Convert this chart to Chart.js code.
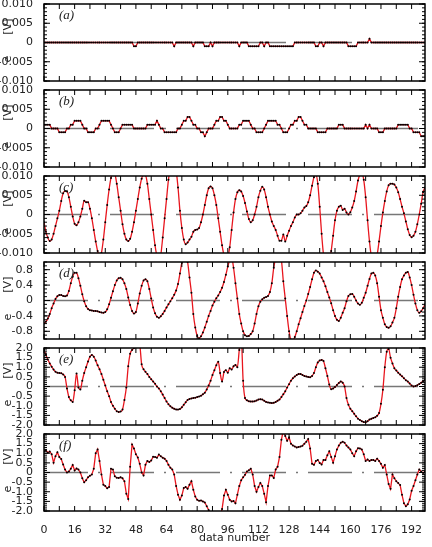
<!DOCTYPE html>
<html>
<head>
<meta charset="utf-8">
<script src="https://cdn.jsdelivr.net/npm/chart.js@4.4.1/dist/chart.umd.min.js"></script>
<style>
body { margin: 0; background: #fff; width: 432px; height: 547px; overflow: hidden; position: relative; }
canvas { position: absolute; left: 0; }
</style>
</head>
<body>
<canvas id="pa" width="432" height="101" style="top:-8px"></canvas>
<canvas id="pb" width="432" height="101" style="top:78px"></canvas>
<canvas id="pc" width="432" height="101" style="top:164px"></canvas>
<canvas id="pd" width="432" height="101" style="top:250px"></canvas>
<canvas id="pe" width="432" height="101" style="top:336px"></canvas>
<canvas id="pf" width="432" height="125" style="top:422px"></canvas>
<script>
// data number 0..199
var dataNumber = [];
for (var i = 0; i < 200; i++) dataNumber.push(i);

var xTicks = [0, 16, 32, 48, 64, 80, 96, 112, 128, 144, 160, 176, 192];

var smallTicks = [-0.010, -0.005, 0, 0.005, 0.010];
var smallLabels = ['-0.010', '-0.005', '0', '0.005', '0.010'];
var dTicks = [-0.8, -0.4, 0, 0.4, 0.8];
var dLabels = ['-0.8', '-0.4', '0', '0.4', '0.8'];
var bigTicks = [-2.0, -1.5, -1.0, -0.5, 0, 0.5, 1.0, 1.5, 2.0];
var bigLabels = ['-2.0', '-1.5', '-1.0', '-0.5', '0', '0.5', '1.0', '1.5', '2.0'];

// (a)
var eA = [
0,0,0,0,0,0,0,0,0,0,
0,0,0,0,0,0,0,0,0,0,
0,0,0,0,0,0,0,0,0,0,
0,0,0,0,0,0,0,0,0,0,
0,0,0,0,0,0,0,-.001,-.001,0,
0,0,0,0,0,0,0,0,0,0,
0,0,0,0,0,0,0,0,-.001,0,
0,0,0,0,0,0,0,0,-.001,0,
0,0,0,0,-.001,-.001,-.001,0,-.001,0,
0,0,0,0,0,0,0,0,0,0,
0,0,-.001,0,0,0,0,-.001,-.001,-.001,
-.001,-.001,-.001,0,0,-.001,0,0,-.001,-.001,
-.001,-.001,-.001,-.001,-.001,-.001,-.001,-.001,-.001,-.001,
-.001,0,0,0,0,0,0,0,0,0,
0,0,-.001,-.001,0,0,-.001,0,0,0,
0,0,0,0,0,0,0,0,0,-.001,
-.001,-.001,-.001,-.001,0,0,0,0,0,0,
.001,0,0,0,0,0,0,0,0,0,
0,0,0,0,0,0,0,0,0,0,
0,0,0,0,0,0,0,0,0,0
];

// (b)
var eB = [
.001,.001,.001,.001,0,0,0,0,-.001,-.001,
-.001,-.001,0,0,.001,.001,.002,.002,.002,.002,
.001,0,0,-.001,-.001,-.001,-.001,0,0,.001,
.002,.002,.002,.002,.002,.001,0,-.001,-.001,-.001,
0,.001,.001,.001,.001,.001,.001,0,0,0,
0,0,0,0,.001,.001,.001,.001,.001,.002,
.001,0,0,-.001,-.001,-.001,-.001,-.001,-.001,-.001,
0,0,.001,.002,.002,.003,.003,.002,.001,.001,
0,0,-.001,-.001,-.002,-.001,0,0,0,.001,
.002,.002,.003,.003,.002,.002,.001,0,0,0,
0,0,.001,.001,.002,.002,.002,.002,.001,0,
0,-.001,-.001,-.001,-.001,0,.001,.002,.002,.002,
.002,.002,.001,.001,0,-.001,-.001,-.001,0,.001,
.001,.002,.002,.003,.003,.002,.001,.001,0,0,
0,0,0,-.001,-.001,-.001,-.001,-.001,0,0,
0,0,0,0,.001,.001,.001,0,0,0,
0,0,0,0,0,0,0,0,.001,0,
.001,0,0,0,0,-.001,-.001,-.001,0,0,
0,0,0,0,0,.001,.001,.001,.001,.001,
.001,0,0,-.001,-.001,-.001,-.001,-.002,-.002,-.002
];

// (c)
var eC = [
-.002,-.0045,-.006,-.0069,-.0065,-.005,-.003,-.001,.001,.0035,
.0055,.0061,.006,.0045,.002,-.0005,-.0024,-.0028,-.002,-.0005,
.0015,.0036,.0032,.0032,.0015,-.001,-.004,-.007,-.0095,-.011,
-.01,-.0065,-.002,.0025,.0065,.0095,.0108,.0105,.008,.0045,
.001,-.0025,-.005,-.0065,-.0069,-.0063,-.0045,-.002,.001,.004,
.007,.0093,.0103,.0102,.008,.004,0,-.004,-.008,-.0108,
-.0118,-.0105,-.006,-.001,.004,.009,.012,.0132,.013,.0115,
.007,.001,-.0035,-.0065,-.0077,-.0073,-.0065,-.0058,-.0045,-.004,
-.0039,-.0035,-.002,0,.0025,.005,.0068,.0073,.0068,.005,
.0025,-.001,-.0045,-.008,-.0105,-.0115,-.011,-.0085,-.004,.0005,
.004,.0058,.0063,.006,.0048,.003,.0008,-.0012,-.002,-.0015,
0,.002,.0045,.0062,.0072,.0065,.0045,.002,0,-.0018,
-.003,-.004,-.0055,-.0068,-.0068,-.0052,-.007,-.0055,-.0042,-.003,
-.002,-.0008,0,0,.0003,.001,.0018,.0022,.0032,.005,
.0075,.0097,.0104,.008,.002,-.005,-.0105,-.013,-.0135,-.0125,
-.0095,-.0055,-.0015,.001,.002,.0023,.0012,.0015,.0005,0,
.0006,.0018,.0035,.006,.0088,.0103,.0107,.009,.0045,-.0015,
-.007,-.011,-.0125,-.0125,-.0105,-.007,-.003,.0005,.0035,.006,
.0076,.008,.008,.0078,.007,.0058,.004,.002,.0003,-.0018,
-.0038,-.0053,-.0059,-.0055,-.0045,-.0025,0,.0028,.0058,.007
];

// (d)
var eD = [
-0.6,-0.55,-0.47,-0.35,-0.2,-0.08,0.04,0.11,0.14,0.14,
0.12,0.11,0.13,0.25,0.45,0.62,0.72,0.72,0.58,0.38,
0.16,-0.02,-0.15,-0.22,-0.25,-0.26,-0.27,-0.27,-0.28,-0.3,
-0.31,-0.32,-0.3,-0.23,-0.1,0.07,0.24,0.4,0.52,0.58,
0.59,0.55,0.45,0.3,0.08,-0.12,-0.27,-0.34,-0.3,-0.08,
0.18,0.38,0.52,0.55,0.5,0.3,0.05,-0.18,-0.33,-0.42,
-0.45,-0.41,-0.35,-0.27,-0.18,-0.1,-0.02,0.06,0.15,0.26,
0.43,0.7,0.98,1.12,1.15,1.0,0.6,0.2,-0.35,-0.7,
-0.92,-0.98,-0.93,-0.83,-0.7,-0.55,-0.4,-0.27,-0.13,-0.03,
0.06,0.13,0.22,0.33,0.48,0.67,0.88,1.05,1.12,0.85,
0.45,0.05,-0.35,-0.6,-0.8,-0.9,-0.93,-0.92,-0.87,-0.8,
-0.6,-0.35,-0.15,-0.03,0.03,0.07,0.09,0.12,0.22,0.45,
0.85,1.1,1.2,1.2,1.05,0.5,0.05,-0.4,-0.8,-1.02,
-1.05,-0.95,-0.8,-0.62,-0.46,-0.3,-0.14,0,0.17,0.35,
0.55,0.72,0.78,0.75,0.7,0.6,0.5,0.37,0.22,0.08,
-0.07,-0.25,-0.4,-0.5,-0.53,-0.45,-0.32,-0.2,-0.02,0.12,
0.16,0.17,0.1,0,-0.08,-0.11,-0.06,0.07,0.2,0.38,
0.56,0.7,0.72,0.65,0.45,0.1,-0.25,-0.45,-0.62,-0.69,
-0.71,-0.67,-0.57,-0.45,-0.2,0.1,0.35,0.55,0.65,0.72,
0.74,0.6,0.4,0.15,-0.08,-0.25,-0.32,-0.28,-0.2,-0.1
];

// (e)
var eE = [
1.9,1.65,1.4,1.2,1.03,0.88,0.77,0.72,0.7,0.69,
0.62,0.5,-0.1,-0.55,-0.72,-0.8,-0.2,0.68,-0.05,-0.15,
0.3,0.7,1.0,1.3,1.55,1.64,1.55,1.35,1.1,0.9,
0.65,0.35,0.05,-0.25,-0.5,-0.8,-1.0,-1.15,-1.28,-1.33,
-1.3,-1.2,-0.7,-0.05,1.05,1.7,1.9,2.0,2.2,2.4,
2.2,1.15,0.9,0.76,0.65,0.5,0.38,0.26,0.14,0.0,
-0.1,-0.25,-0.42,-0.6,-0.78,-0.92,-1.03,-1.1,-1.16,-1.19,
-1.2,-1.17,-1.08,-0.95,-0.82,-0.7,-0.65,-0.62,-0.6,-0.58,
-0.55,-0.52,-0.48,-0.4,-0.32,-0.15,0.05,0.3,0.6,0.85,
1.1,1.29,0.7,0.26,0.75,0.85,0.72,0.95,0.88,1.05,
1.12,1.0,1.9,2.6,0.3,-0.6,-0.72,-0.77,-0.78,-0.78,
-0.77,-0.73,-0.68,-0.66,-0.68,-0.74,-0.8,-0.83,-0.85,-0.86,
-0.85,-0.8,-0.74,-0.68,-0.55,-0.4,-0.25,-0.05,0.12,0.3,
0.43,0.52,0.6,0.65,0.65,0.6,0.55,0.52,0.5,0.48,
0.55,0.7,1.0,1.25,1.35,1.38,1.32,0.95,0.55,0.1,
-0.14,-0.1,-0.03,0.08,0.18,0.26,0.2,0.0,-0.6,-0.95,
-1.15,-1.28,-1.42,-1.55,-1.67,-1.74,-1.8,-1.85,-1.86,-1.8,
-1.72,-1.68,-1.63,-1.6,-1.52,-1.38,-0.9,-0.17,1.0,1.8,
1.95,1.5,1.2,0.95,0.83,0.72,0.62,0.53,0.43,0.33,
0.26,0.15,0.05,0.0,0.02,0.07,0.13,0.2,0.27,0.34
];

// (f)
var eF = [
1.12,1.16,1.03,1.09,0.95,0.51,0.85,1.05,0.8,0.7,
0.42,0.15,0.0,0.05,0.2,0.39,0.1,0.21,0.15,0.0,
-0.3,-0.51,-0.4,-0.25,-0.17,-0.1,0.2,1.0,1.2,0.6,
-0.1,-0.63,-0.7,-0.82,-0.75,0.2,0.15,-0.2,-0.27,-0.28,
-0.25,-0.3,-0.45,-1.1,-1.38,0.3,1.45,1.25,0.95,0.78,
0.45,0.0,-0.15,0.4,0.6,0.55,0.62,0.82,0.8,0.77,
0.93,0.85,0.77,0.72,0.6,0.4,0.25,0.15,-0.1,-0.7,
-1.15,-1.42,-1.2,-0.8,-0.75,-0.85,-0.63,-0.45,-0.9,-1.25,
-1.42,-1.47,-1.45,-1.5,-1.56,-1.75,-1.95,-2.1,-2.2,-2.15,
-2.05,-2.15,-2.3,-1.9,-1.2,-0.9,-1.15,-1.42,-1.5,-1.48,
-1.6,-1.15,-0.7,-0.4,-0.25,-0.12,0.05,0.12,0.2,-0.1,
-0.7,-1.0,-0.75,-0.54,-0.7,-1.1,-1.54,-0.7,-0.15,-0.15,
-0.28,0.15,0.3,0.8,1.7,2.2,1.9,1.65,1.82,1.5,
1.4,1.35,1.3,1.33,1.35,1.39,1.5,1.6,1.74,1.25,
0.45,0.4,0.6,0.65,0.5,0.42,0.65,0.65,0.9,1.1,
0.81,0.51,0.85,1.2,1.4,1.55,1.6,1.55,1.4,1.3,
1.2,1.0,0.85,1.1,1.26,1.25,1.2,0.95,0.6,0.68,
0.6,0.65,0.65,0.6,0.72,0.6,0.45,0.25,0.39,-0.1,
-0.6,-0.85,-0.1,-0.3,-0.45,-0.55,-0.65,-1.16,-1.6,-1.75,
-1.65,-1.4,-0.95,-0.7,-0.4,-0.1,0.16,0.05,-0.02,0.07
];

var zeroLine = [{x: 0, y: 0}, {x: 199, y: 0}];

var textFont = 'DejaVu Sans';

// frame, inward ticks, panel letter and axis title
var framePlugin = {
  id: 'frame',
  afterDraw: function(chart, args, opts) {
    var ctx = chart.ctx, a = chart.chartArea;
    var xs = chart.scales.x, ys = chart.scales.y;
    ctx.save();
    ctx.strokeStyle = '#000';
    ctx.lineWidth = 1;
    ctx.beginPath();
    for (var v = 0; v <= 199; v += 8) {
      var px = xs.getPixelForValue(v);
      ctx.moveTo(px, a.top); ctx.lineTo(px, a.top + 5);
      ctx.moveTo(px, a.bottom); ctx.lineTo(px, a.bottom - 5);
    }
    var n = Math.round((opts.max - opts.min) / opts.minor);
    for (var k = 0; k <= n; k++) {
      var py = ys.getPixelForValue(opts.min + k * opts.minor);
      ctx.moveTo(a.left, py); ctx.lineTo(a.left + 3, py);
      ctx.moveTo(a.right, py); ctx.lineTo(a.right - 3, py);
    }
    opts.major.forEach(function(t) {
      var py = ys.getPixelForValue(t);
      ctx.moveTo(a.left, py); ctx.lineTo(a.left + 6, py);
      ctx.moveTo(a.right, py); ctx.lineTo(a.right - 6, py);
    });
    ctx.stroke();
    ctx.lineWidth = 1.5;
    ctx.strokeRect(a.left, a.top, a.right - a.left, a.bottom - a.top);

    ctx.fillStyle = '#222';
    ctx.font = 'italic 13px "Liberation Serif"';
    ctx.textBaseline = 'middle';
    ctx.fillText(opts.letter, a.left + 15, a.top + 12);

    ctx.font = '11px "' + textFont + '"';
    ctx.translate(8, (a.top + a.bottom) / 2 - 2);
    ctx.rotate(-Math.PI / 2);
    ctx.textAlign = 'center';
    ctx.fillText('e      [V]', 0, 0);
    ctx.restore();
  }
};

function makePanel(id, values, yMin, yMax, yTicks, yLabels, minor, letter, smooth, isBottom) {
  new Chart(document.getElementById(id), {
    type: 'line',
    data: {
      labels: dataNumber,
      datasets: [{
        data: values,
        borderColor: '#e8161e',
        borderWidth: 1.3,
        pointRadius: 1,
        pointBackgroundColor: '#000',
        pointBorderWidth: 0,
        cubicInterpolationMode: smooth ? 'monotone' : 'default',
        tension: 0,
        order: 0
      }, {
        data: zeroLine,
        borderColor: '#777',
        borderWidth: 1.4,
        borderDash: [44, 10, 2, 10],
        pointRadius: 0,
        order: 1
      }]
    },
    options: {
      responsive: false,
      animation: false,
      devicePixelRatio: 1,
      layout: { padding: { left: 0, right: 7, top: 12, bottom: isBottom ? 0 : 12 } },
      plugins: {
        legend: { display: false },
        tooltip: { enabled: false },
        frame: { min: yMin, max: yMax, minor: minor, major: yTicks, letter: letter }
      },
      scales: {
        x: {
          type: 'linear',
          min: 0,
          max: 199,
          display: isBottom,
          grid: { display: false },
          border: { display: false },
          afterBuildTicks: function(s) { s.ticks = xTicks.map(function(v) { return { value: v }; }); },
          afterFit: function(s) { if (isBottom) s.height = 36; },
          ticks: { autoSkip: false, maxRotation: 0, padding: 5, color: '#222', font: { family: textFont, size: 11 } },
          title: { display: true, text: 'data number', color: '#222', padding: { top: 0, bottom: 2 }, font: { family: textFont, size: 11 } }
        },
        y: {
          min: yMin,
          max: yMax,
          grid: { display: false },
          border: { display: false },
          afterBuildTicks: function(s) { s.ticks = yTicks.map(function(v) { return { value: v }; }); },
          afterFit: function(s) { s.width = 44; },
          ticks: {
            autoSkip: false,
            padding: 3,
            color: '#222',
            font: { family: textFont, size: 11 },
            callback: function(v, i) { return yLabels[i]; }
          }
        }
      }
    },
    plugins: [framePlugin]
  });
}

makePanel('pa', eA, -0.010, 0.010, smallTicks, smallLabels, 0.001, '(a)', false, false);
makePanel('pb', eB, -0.010, 0.010, smallTicks, smallLabels, 0.001, '(b)', false, false);
makePanel('pc', eC, -0.010, 0.010, smallTicks, smallLabels, 0.001, '(c)', true, false);
makePanel('pd', eD, -1, 1, dTicks, dLabels, 0.1, '(d)', true, false);
makePanel('pe', eE, -2, 2, bigTicks, bigLabels, 0.1, '(e)', true, false);
makePanel('pf', eF, -2, 2, bigTicks, bigLabels, 0.1, '(f)', false, true);
</script>
</body>
</html>
